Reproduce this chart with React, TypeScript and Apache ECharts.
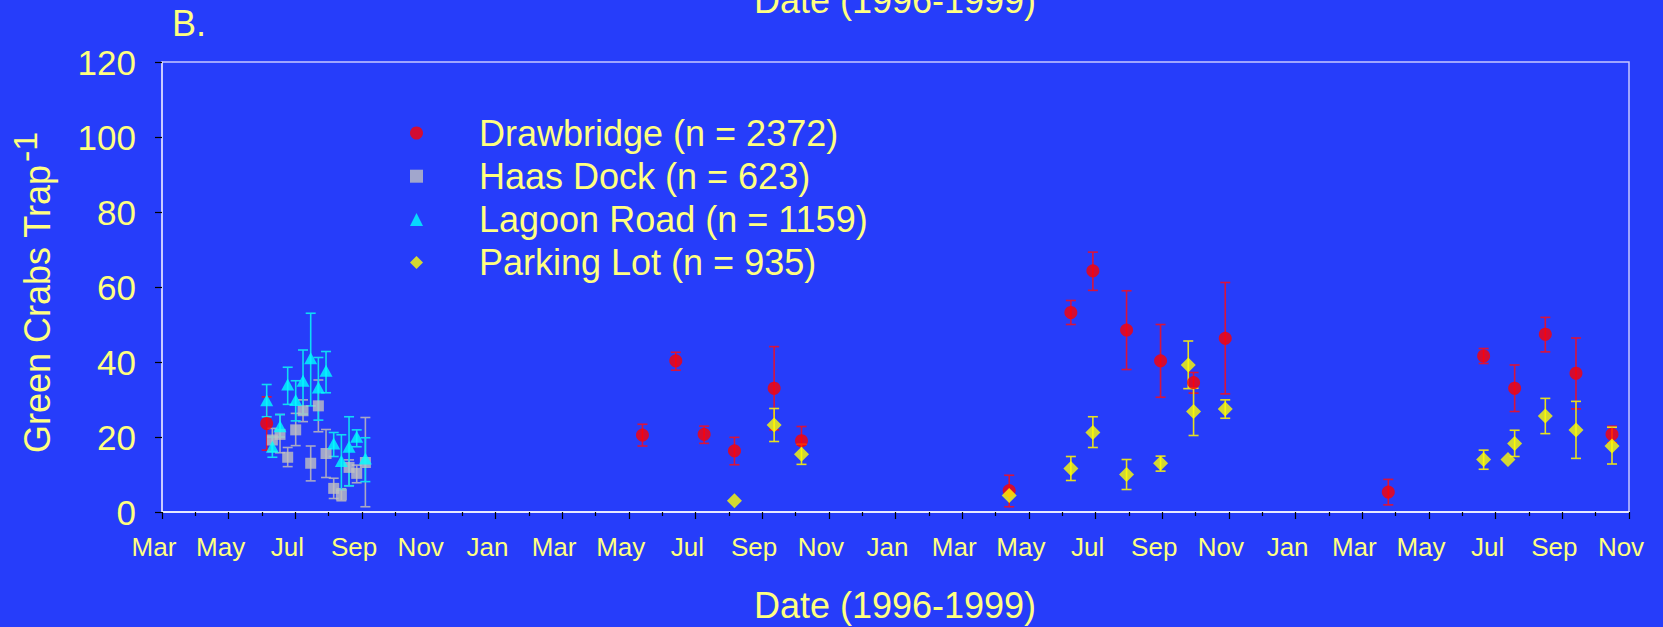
import React, { useEffect, useRef } from "react";
import * as echarts from "echarts";

// x values are months counted from March 1996 (0 = Mar 1996, 44 = Nov 1999)
const xTickLabels = [
  "Mar", "May", "Jul", "Sep", "Nov", "Jan",
  "Mar", "May", "Jul", "Sep", "Nov", "Jan",
  "Mar", "May", "Jul", "Sep", "Nov", "Jan",
  "Mar", "May", "Jul", "Sep", "Nov",
];

const seriesNames = [
  "Drawbridge (n = 2372)",
  "Haas Dock (n = 623)",
  "Lagoon Road (n = 1159)",
  "Parking Lot (n = 935)",
];

// Drawbridge
const drawMonths = [3.14, 14.41, 15.41, 16.26, 17.17, 18.36, 19.18, 25.41, 27.26, 27.92, 28.93, 29.95, 30.94, 31.89, 36.78, 39.64, 40.57, 41.49, 42.41, 43.49];
const drawMeans = [23.6, 20.5, 40.3, 20.7, 16.3, 33.0, 19.0, 5.7, 53.2, 64.3, 48.5, 40.3, 34.5, 46.3, 5.3, 41.6, 33.0, 47.4, 37.0, 20.7];
const drawLow = [16.5, 17.6, 37.8, 18.3, 12.6, 21.9, 17.9, 1.4, 50.0, 59.1, 38.0, 30.6, 31.7, 31.5, 1.9, 39.6, 26.8, 42.7, 27.5, 18.5];
const drawHigh = [30.7, 23.4, 42.6, 22.9, 19.9, 44.1, 22.8, 9.8, 56.4, 69.3, 59.0, 50.0, 37.2, 61.2, 8.7, 43.6, 39.2, 51.9, 46.4, 22.9];

// Haas Dock
const haasMonths = [3.31, 3.54, 3.77, 4.01, 4.23, 4.46, 4.69, 4.92, 5.15, 5.38, 5.61, 5.84, 6.1];
const haasMeans = [19.2, 20.7, 14.6, 21.9, 27.0, 13.0, 28.3, 15.6, 6.3, 4.6, 11.9, 10.3, 13.2];
const haasLow = [16.1, 15.8, 12.1, 17.7, 24.1, 8.3, 21.4, 9.2, 3.6, 3.0, 7.0, 7.8, 1.4];
const haasHigh = [22.3, 26.0, 17.2, 26.3, 29.9, 17.6, 35.2, 22.0, 9.0, 6.2, 13.9, 12.5, 25.2];

// Lagoon Road
const lagoonMonths = [3.14, 3.31, 3.54, 3.77, 4.01, 4.23, 4.46, 4.69, 4.92, 5.15, 5.38, 5.61, 5.84, 6.1];
const lagoonMeans = [29.8, 17.4, 22.9, 34.0, 29.9, 35.0, 41.0, 33.2, 37.7, 18.3, 13.6, 17.4, 20.1, 14.3];
const lagoonLow = [25.4, 14.6, 20.0, 28.7, 24.3, 26.1, 28.3, 24.5, 31.8, 14.8, 5.9, 7.0, 17.4, 8.1];
const lagoonHigh = [34.0, 20.0, 26.0, 38.6, 35.0, 43.2, 53.0, 41.2, 42.8, 21.2, 20.6, 25.4, 21.9, 19.8];

// Parking Lot
const parkMonths = [17.17, 18.36, 19.18, 25.41, 27.26, 27.92, 28.93, 29.95, 30.78, 30.94, 31.89, 39.64, 40.37, 40.57, 41.49, 42.41, 43.49];
const parkMeans = [3.0, 23.2, 15.4, 4.4, 11.6, 21.2, 10.0, 13.0, 39.2, 26.8, 27.5, 14.0, 14.0, 18.3, 25.6, 21.9, 17.6];
const parkLow = [3.0, 18.8, 12.7, 4.4, 8.4, 17.2, 6.0, 10.9, 32.9, 20.4, 25.0, 11.4, 14.0, 14.8, 20.9, 14.3, 12.8];
const parkHigh = [3.0, 27.6, 18.1, 4.4, 14.8, 25.4, 14.0, 14.9, 45.6, 33.0, 29.9, 16.5, 14.0, 21.8, 30.3, 29.5, 22.6];

const BG = "#263dfa";
const TXT = "#ffff80";
const FONT = "'Liberation Sans', Arial, Helvetica, sans-serif";

function pts(m: number[], v: number[]) {
  return m.map((x, i) => [x, v[i]]);
}
function errs(m: number[], lo: number[], hi: number[]) {
  return m.map((x, i) => [x, lo[i], hi[i]]);
}

function errorSeries(name: string, data: number[][], color: string) {
  return {
    type: "custom",
    name: name + " err",
    z: 1,
    silent: true,
    data,
    encode: { x: 0, y: [1, 2] },
    renderItem: (params: any, api: any) => {
      const x = api.value(0);
      const lo = api.value(1);
      const hi = api.value(2);
      if (Math.abs(hi - lo) < 0.01) return { type: "group", children: [] };
      const a = api.coord([x, lo]);
      const b = api.coord([x, hi]);
      const hw = 5;
      const st = { stroke: color, lineWidth: 1.6 };
      return {
        type: "group",
        children: [
          { type: "line", shape: { x1: a[0], y1: a[1], x2: b[0], y2: b[1] }, style: st },
          { type: "line", shape: { x1: a[0] - hw, y1: a[1], x2: a[0] + hw, y2: a[1] }, style: st },
          { type: "line", shape: { x1: b[0] - hw, y1: b[1], x2: b[0] + hw, y2: b[1] }, style: st },
        ],
      };
    },
  };
}

export default function App() {
  const ref = useRef<HTMLDivElement>(null);
  useEffect(() => {
    document.body.style.margin = "0";
    document.body.style.background = BG;
    const chart = echarts.init(ref.current!, null, { renderer: "svg" });
    const option: any = {
      animation: false,
      backgroundColor: BG,
      textStyle: { fontFamily: FONT },
      grid: {
        left: 162,
        right: 34,
        top: 62,
        bottom: 115,
        show: true,
        borderColor: "#c8c8ff",
        borderWidth: 1.5,
        backgroundColor: "transparent",
        containLabel: false,
        outerBoundsMode: "none",
      },
      legend: {
        orient: "vertical",
        left: 410,
        top: 115,
        padding: 0,
        itemWidth: 13,
        itemHeight: 13,
        itemGap: 7.2,
        data: seriesNames,
        selectedMode: false,
        textStyle: {
          color: TXT,
          fontSize: 36,
          fontFamily: FONT,
          lineHeight: 36,
          padding: [0, 0, 0, 51],
        },
      },
      xAxis: {
        type: "value",
        min: 0,
        max: 44,
        interval: 2,
        axisLine: { show: true, onZero: false, lineStyle: { color: "#ffffff", width: 1.5 } },
        axisTick: { show: true, inside: false, length: 7, lineStyle: { color: "#000000", width: 1.2 } },
        minorTick: { show: true, splitNumber: 2, length: 4, lineStyle: { color: "#000000", width: 1.2 } },
        splitLine: { show: false },
        minorSplitLine: { show: false },
        axisLabel: {
          color: TXT,
          fontSize: 26,
          fontFamily: FONT,
          margin: 22,
          padding: [0, 16, 0, 0],
          formatter: (v: number) => {
            const i = Math.round(v / 2);
            return xTickLabels[i] ?? "";
          },
        },
      },
      yAxis: {
        type: "value",
        min: 0,
        max: 120,
        interval: 20,
        axisLine: { show: true, onZero: false, lineStyle: { color: "#d8d8ff", width: 1.5 } },
        axisTick: { show: true, inside: false, length: 7, lineStyle: { color: "#000000", width: 1.2 } },
        splitLine: { show: false },
        axisLabel: { color: TXT, fontSize: 35, fontFamily: FONT, margin: 26 },
      },
      graphic: [
        {
          type: "text",
          x: 172,
          y: 23,
          style: { text: "B.", fill: TXT, fontSize: 36, fontFamily: FONT, align: "left", verticalAlign: "middle" },
        },
        {
          type: "text",
          x: 895,
          y: 0,
          style: { text: "Date (1996-1999)", fill: TXT, fontSize: 36, fontFamily: FONT, align: "center", verticalAlign: "middle" },
        },
        {
          type: "text",
          x: 895,
          y: 605,
          style: { text: "Date (1996-1999)", fill: TXT, fontSize: 36, fontFamily: FONT, align: "center", verticalAlign: "middle" },
        },
        {
          type: "text",
          x: 37.5,
          y: 309,
          rotation: Math.PI / 2,
          style: { text: "Green Crabs Trap", fill: TXT, fontSize: 36, fontFamily: FONT, align: "center", verticalAlign: "middle" },
        },
        {
          type: "text",
          x: 25,
          y: 147,
          rotation: Math.PI / 2,
          style: { text: "-1", fill: TXT, fontSize: 34, fontFamily: FONT, align: "center", verticalAlign: "middle" },
        },
      ],
      series: [
        errorSeries(seriesNames[0], errs(drawMonths, drawLow, drawHigh), "#d8143c"),
        errorSeries(seriesNames[1], errs(haasMonths, haasLow, haasHigh), "#a8a8c4"),
        errorSeries(seriesNames[2], errs(lagoonMonths, lagoonLow, lagoonHigh), "#10dcf4"),
        errorSeries(seriesNames[3], errs(parkMonths, parkLow, parkHigh), "#e6e020"),
        {
          type: "scatter",
          name: seriesNames[0],
          z: 3,
          symbol: "circle",
          symbolSize: 13,
          itemStyle: { color: "#ff0000" },
          data: pts(drawMonths, drawMeans),
        },
        {
          type: "scatter",
          name: seriesNames[1],
          z: 3,
          symbol: "rect",
          symbolSize: 11,
          itemStyle: { color: "#c0c0c0" },
          data: pts(haasMonths, haasMeans),
        },
        {
          type: "scatter",
          name: seriesNames[2],
          z: 3,
          symbol: "triangle",
          symbolSize: [13, 12],
          itemStyle: { color: "#00ffff" },
          data: pts(lagoonMonths, lagoonMeans),
        },
        {
          type: "scatter",
          name: seriesNames[3],
          z: 3,
          symbol: "diamond",
          symbolSize: 15,
          itemStyle: { color: "#ffff00" },
          data: pts(parkMonths, parkMeans),
        },
      ],
    };
    chart.setOption(option);
    return () => chart.dispose();
  }, []);
  return <div ref={ref} style={{ width: 1663, height: 627 }} />;
}
